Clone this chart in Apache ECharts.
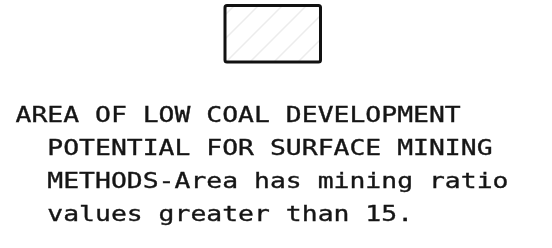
<!DOCTYPE html>
<html><head><meta charset="utf-8">
<script src="https://cdn.jsdelivr.net/npm/echarts@6/dist/echarts.min.js"></script>
<style>html,body{margin:0;padding:0;background:#fff}#c{width:552px;height:248px}</style>
</head><body><div id="c"></div>
<script>
var legendLines = [
  "AREA OF LOW COAL DEVELOPMENT",
  "  POTENTIAL FOR SURFACE MINING",
  "  METHODS-Area has mining ratio",
  "  values greater than 15."
];
var swatchColor = "#ffffff";
var hatchColor = "#ececec";

function makeHatch() {
  var s = 24, cv = document.createElement('canvas');
  cv.width = s; cv.height = s;
  var ctx = cv.getContext('2d');
  ctx.fillStyle = swatchColor; ctx.fillRect(0, 0, s, s);
  ctx.strokeStyle = hatchColor; ctx.lineWidth = 1.5;
  ctx.beginPath();
  ctx.moveTo(-2, s + 2); ctx.lineTo(s + 2, -2);
  ctx.moveTo(-2, 2); ctx.lineTo(2, -2);
  ctx.moveTo(s - 2, s + 2); ctx.lineTo(s + 2, s - 2);
  ctx.stroke();
  return cv;
}

var chart = echarts.init(document.getElementById('c'), null, {renderer: 'canvas'});
var fontSize = 22;
var charW = 15.9;
chart.setOption({
  backgroundColor: '#ffffff',
  animation: false,
  graphic: [
    {
      type: 'rect',
      shape: {x: 225, y: 5.5, width: 95.5, height: 56.5, r: 2},
      style: {fill: {image: makeHatch(), repeat: 'repeat'}, stroke: '#111', lineWidth: 3}
    },
    {
      type: 'text',
      x: 15.5, y: 100,
      scaleX: charW / (fontSize * 0.602),
      scaleY: 0.98,
      style: {
        text: legendLines.join('\n'),
        font: fontSize + 'px "DejaVu Sans Mono"',
        fill: '#151515',
        stroke: '#151515',
        lineWidth: 0.35,
        lineHeight: 33.6,
        verticalAlign: 'top',
        align: 'left'
      }
    }
  ]
});
</script></body></html>
